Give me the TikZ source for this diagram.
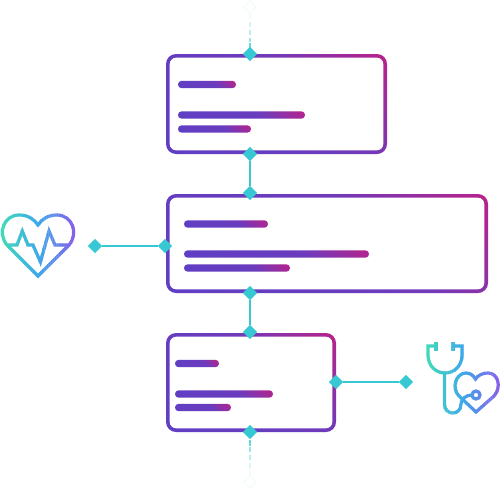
\documentclass[tikz,border=0pt]{standalone}
\usetikzlibrary{shapes.geometric}
\definecolor{cardp}{HTML}{5B3FC6}
\definecolor{cardq}{HTML}{6A3CBE}
\definecolor{cardm}{HTML}{B5238C}
\definecolor{teal}{HTML}{38C8D4}
\definecolor{iconA}{HTML}{42DDB5}
\definecolor{iconB}{HTML}{3FA9EA}
\definecolor{iconC}{HTML}{8A5CEB}
\pgfdeclarehorizontalshading{cardshade}{100bp}{color(0bp)=(cardp); color(50bp)=(cardq); color(60bp)=(cardq!88!cardm); color(84bp)=(cardm); color(100bp)=(cardm)}
\pgfdeclarehorizontalshading{barshade}{100bp}{color(0bp)=(cardp); color(60bp)=(cardq); color(85bp)=(cardm); color(100bp)=(cardm)}
\tikzset{
  every picture/.style={x=1pt,y=-1pt},
  dia/.style={diamond,fill=teal,inner sep=0pt,minimum size=14.5pt,draw=none},
  faintdia/.style={diamond,draw=teal!8,fill=white,line width=.8pt,inner sep=0pt,minimum size=13pt},
  link/.style={draw=teal,line width=2.8pt},
  cardouter/.style={rounded corners=10pt,shading=cardshade,shading angle=45},
  cardinner/.style={rounded corners=6.5pt,fill=white},
  barstyle/.style={rounded corners=3.6pt,shading=barshade,shading angle=45},
  iconline/.style={line width=3.2pt,line join=miter},
}
\newcommand{\cardbox}[4]{%
  \shade[cardouter] (#1,#2) rectangle (#3,#4);
  \fill[cardinner] (#1+3.7,#2+3.7) rectangle (#3-3.7,#4-3.7);}
\newcommand{\barline}[3]{%
  \shade[barstyle] (#1,#3-3.7) rectangle (#2,#3+3.7);}
\newcommand{\heartpaths}[1]{%
  \draw[#1,iconline] (38,276) -- (7,245) .. controls (-3,233) and (4,215) .. (19,215) .. controls (28,215) and (34,219) .. (38,225) .. controls (42,219) and (48,215) .. (57,215) .. controls (72,215) and (79,233) .. (69,245) -- cycle;
  \draw[#1,iconline] (8,245) -- (17,245) -- (22.3,231) -- (28,245) -- (33,245) -- (40.5,262) -- (49,231) -- (55,245) -- (68,245);}
\newcommand{\stethpaths}[1]{%
  \draw[#1,iconline] (436,346) -- (428,346) -- (428,355) .. controls (428,366) and (436,373) .. (445,373) .. controls (454,373) and (462,366) .. (462,355) -- (462,346) -- (453,346);
  \draw[#1,iconline] (436,342) -- (436,351);
  \draw[#1,iconline] (453,342) -- (453,351);
  \draw[#1,iconline] (444.5,373) -- (444.5,404) .. controls (444.5,416) and (461,416) .. (461,404) .. controls (461,399) and (466,395) .. (472,395);
  \draw[#1,iconline] (476,395) circle (4);
  \draw[#1,iconline] (476,412) -- (459,396) .. controls (451,388) and (456,373) .. (466,373) .. controls (470,373) and (473,375) .. (475.5,379) .. controls (478,375) and (483,373) .. (488,373) .. controls (498,373) and (502,387) .. (494,396) -- cycle;}
% #1 left edge, #2 width, #3 draw macro, #4 top, #5 bottom: repeat the icon through narrow colour strips
\newcommand{\gradicon}[5]{%
  \foreach \k in {0,...,39}{%
    \pgfmathsetmacro{\tval}{\k/39*100}%
    \pgfmathsetmacro{\ma}{max(0,100-2*\tval)}%
    \pgfmathsetmacro{\mb}{max(0,2*\tval-100)}%
    \pgfmathsetmacro{\xa}{#1+#2*\k/40}%
    \pgfmathsetmacro{\xb}{#1+#2*(\k+1)/40+0.3}%
    \ifdim\tval pt<50pt
      \colorlet{stripc}{iconA!\ma!iconB}%
    \else
      \colorlet{stripc}{iconC!\mb!iconB}%
    \fi
    \begin{scope}
      \clip (\xa,#4) rectangle (\xb,#5);
      #3{stripc}
    \end{scope}
  }}
\begin{document}
\begin{tikzpicture}
  \useasboundingbox (0,0) rectangle (500,490);
  % faint dashes
  \foreach \a/\b/\o in {14/19/.08,22/27/.2,30/35/.35,38/42/.5,43/48/.75}{
    \draw[teal,line width=2.4pt,opacity=\o] (250,\a) -- (250,\b);}
  \foreach \a/\b/\o in {476/471/.08,468/463/.2,460/455/.35,452/447/.5,446/440/.75}{
    \draw[teal,line width=2.4pt,opacity=\o] (250,\a) -- (250,\b);}
  % cards
  \cardbox{166}{54}{387}{154}
  \cardbox{166}{194}{488}{293}
  \cardbox{166}{333}{336}{432}
  % bars
  \barline{178}{236}{84.5}
  \barline{178}{305}{115}
  \barline{178}{251}{129}
  \barline{184}{268}{224}
  \barline{184}{369}{254}
  \barline{184}{290}{268}
  \barline{175}{219}{363.5}
  \barline{175}{273}{394}
  \barline{175}{231}{407.5}
  % connectors
  \node[faintdia] (ftop) at (250,7) {};
  \node[faintdia] (fbot) at (250,482) {};
  \node[dia] (a1) at (250,54) {};
  \node[dia] (a2) at (250,154) {};
  \node[dia] (b1) at (250,193) {};
  \node[dia] (b2) at (250,293) {};
  \node[dia] (c1) at (250,332) {};
  \node[dia] (c2) at (250,432) {};
  \node[dia] (l1) at (95,246) {};
  \node[dia] (l2) at (165,246) {};
  \node[dia] (r1) at (336,382) {};
  \node[dia] (r2) at (406,382) {};
  \draw[link] (a2) -- (b1);
  \draw[link] (b2) -- (c1);
  \draw[link] (l1) -- (l2);
  \draw[link] (r1) -- (r2);
  % icons
  \gradicon{-1}{79}{\heartpaths}{205}{285}
  \gradicon{424}{78}{\stethpaths}{335}{420}
\end{tikzpicture}
\end{document}
